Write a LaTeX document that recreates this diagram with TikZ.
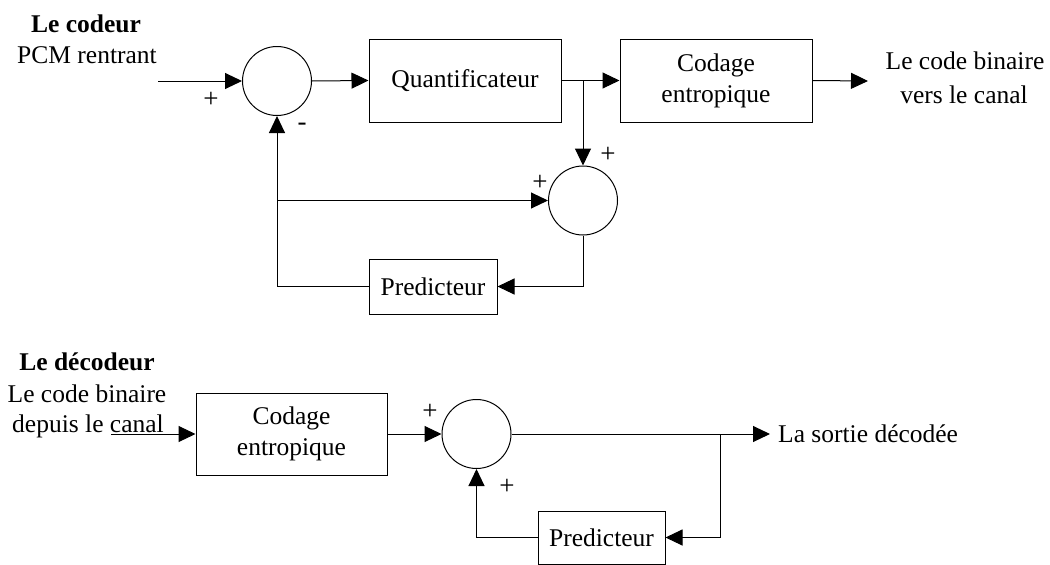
\documentclass[tikz,border=0pt]{standalone}
\usepackage{fontspec}
\setmainfont{Liberation Serif}
\usetikzlibrary{arrows.meta}
\tikzset{
  txt/.style={inner sep=0pt, font=\fontsize{25.5}{31}\selectfont},
  sgn/.style={inner sep=0pt, font=\fontsize{27}{30}\selectfont},
  blk/.style={draw, line width=1pt, inner sep=0pt, align=center, font=\fontsize{25.5}{31}\selectfont},
  sumc/.style={draw, circle, line width=1pt, inner sep=0pt, minimum size=69pt},
  arr/.style={line width=1pt, -{Triangle[length=17pt,width=16pt]}},
}
\begin{document}
\begin{tikzpicture}[x=1pt,y=-1pt]
\useasboundingbox (0,0) rectangle (1050,565);
% ---------- encoder ----------
\node[txt, font=\fontsize{25.5}{31}\selectfont\bfseries, anchor=base] (t1) at (86,32) {Le codeur};
\node[txt, anchor=base] (t2) at (87,63) {PCM rentrant};
\node[sumc] (s1) at (277,81) {};
\node[blk, minimum width=192pt, minimum height=83pt] (q) at (465,80.5) {Quantificateur};
\node[blk, minimum width=192pt, minimum height=83pt] (c1) at (716,80.5) {Codage\\entropique};
\node[txt, anchor=base] (o1a) at (965,69) {Le code binaire};
\node[txt, anchor=base] (o1b) at (964,103) {vers le canal};
\node[sumc] (s2) at (583,200.5) {};
\node[blk, minimum width=128pt, minimum height=55pt] (p1) at (433,286.5) {Predicteur};
\coordinate (in1) at (158,81);
\coordinate (br1) at (583,81);
\coordinate (out1) at (868,81);
\coordinate (br2) at (277,200.5);
\draw[arr] (in1) -- (s1.west);
\draw[arr] (s1.east) -- (q.west);
\draw[arr] (q.east) -- (c1.west);
\draw[arr] (c1.east) -- (out1);
\draw[arr] (br1) -- (s2.north);
\draw[arr] (s2.south) |- (p1.east);
\draw[arr] (p1.west) -| (s1.south);
\draw[arr] (br2) -- (s2.west);
\node[sgn] (pl1) at (211,100) {+};
\node[sgn] (mi1) at (302,127) {-};
\node[sgn] (pl2) at (608,155) {+};
\node[sgn] (pl3) at (540,183) {+};
% ---------- decoder ----------
\node[txt, font=\fontsize{25.5}{31}\selectfont\bfseries, anchor=base] (t3) at (87,370) {Le décodeur};
\node[txt, anchor=base] (t4) at (87,402) {Le code binaire};
\node[txt, anchor=base] (t5) at (88,432) {depuis le canal};
\node[blk, minimum width=191pt, minimum height=82pt] (c2) at (291.5,434) {Codage\\entropique};
\node[sumc] (s3) at (476.5,434) {};
\node[blk, minimum width=127pt, minimum height=53pt] (p2) at (601.5,537.5) {Predicteur};
\node[txt, anchor=west] (o2) at (778,434) {La sortie décodée};
\coordinate (in2) at (111,434);
\coordinate (out2) at (770,434);
\coordinate (br3) at (720,434);
\draw[arr] (in2) -- (c2.west);
\draw[arr] (c2.east) -- (s3.west);
\draw[arr] (s3.east) -- (out2);
\draw[arr] (br3) |- (p2.east);
\draw[arr] (p2.west) -| (s3.south);
\node[sgn] (pl4) at (430,412) {+};
\node[sgn] (pl5) at (507,487) {+};
\end{tikzpicture}
\end{document}
